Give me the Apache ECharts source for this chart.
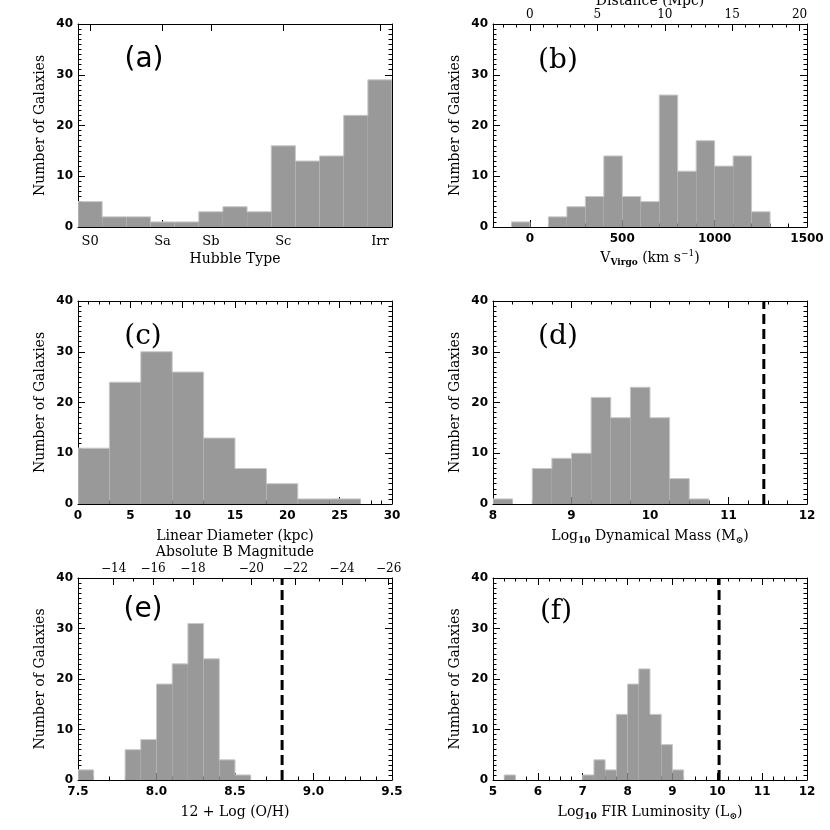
<!DOCTYPE html>
<html>
<head>
<meta charset="utf-8">
<script src="https://cdn.jsdelivr.net/npm/echarts@6/dist/echarts.min.js"></script>
<style>
  html, body { margin: 0; padding: 0; background: #fff; }
  #chart { width: 830px; height: 830px; }
</style>
</head>
<body>
<div id="chart"></div>
<script>
// (a) Hubble type, one bin per type step
const hubbleBinLeft = [-0.5, 0.5, 1.5, 2.5, 3.5, 4.5, 5.5, 6.5, 7.5, 8.5, 9.5, 10.5, 11.5]
const hubbleCounts = [5, 2, 2, 1, 1, 3, 4, 3, 16, 13, 14, 22, 29]
const hubbleTicks = [0, 3, 5, 8, 12]
const hubbleLabels = ['S0', 'Sa', 'Sb', 'Sc', 'Irr']

// (b) V_Virgo, 100 km/s bins
const velBinLeft = [-100, 0, 100, 200, 300, 400, 500, 600, 700, 800, 900, 1000, 1100, 1200]
const velCounts = [1, 0, 2, 4, 6, 14, 6, 5, 26, 11, 17, 12, 14, 3]
const velTicks = [0, 500, 1000, 1500]
const distTicks = [0, 5, 10, 15, 20]
const H0 = 73

// (c) linear diameter, 3 kpc bins
const diamBinLeft = [0, 3, 6, 9, 12, 15, 18, 21, 24]
const diamCounts = [11, 24, 30, 26, 13, 7, 4, 1, 1]

// (d) log dynamical mass, 0.25 dex bins
const massBinLeft = [8.0, 8.25, 8.5, 8.75, 9.0, 9.25, 9.5, 9.75, 10.0, 10.25, 10.5]
const massCounts = [1, 0, 7, 9, 10, 21, 17, 23, 17, 5, 1]
const massRef = 11.45

// (e) 12 + log(O/H), 0.1 dex bins
const ohBinLeft = [7.5, 7.6, 7.7, 7.8, 7.9, 8.0, 8.1, 8.2, 8.3, 8.4, 8.5]
const ohCounts = [2, 0, 0, 6, 8, 19, 23, 31, 24, 4, 1]
const ohRef = 8.8
const magTickAt = [7.727, 7.978, 8.232, 8.604, 8.885, 9.182, 9.479]
const magLabels = ['\u221214', '\u221216', '\u221218', '\u221220', '\u221222', '\u221224', '\u221226']

// (f) log FIR luminosity, 0.25 dex bins
const firBinLeft = [5.25, 7.0, 7.25, 7.5, 7.75, 8.0, 8.25, 8.5, 8.75, 9.0]
const firCounts = [1, 1, 4, 2, 13, 19, 22, 13, 7, 2]
const firRef = 10.04

const panelTags = ['(a)', '(b)', '(c)', '(d)', '(e)', '(f)']

const SANS = 'DejaVu Sans'
const SERIF = 'DejaVu Serif'
const BLACK = '#000'
const BAR_FILL = '#999999'
const BAR_EDGE = '#c8c8c8'

const grids = [
  { left: 78, top: 24, width: 314, height: 203 },
  { left: 493, top: 24, width: 314, height: 203 },
  { left: 78, top: 301, width: 314, height: 203 },
  { left: 493, top: 301, width: 314, height: 203 },
  { left: 78, top: 578, width: 314, height: 202 },
  { left: 493, top: 578, width: 314, height: 202 },
].map((g) => ({ ...g, containLabel: false, outerBoundsMode: 'none' }))

const tagPos = [
  [144, 60, SANS], [558, 61, SERIF], [143, 337, SERIF],
  [558, 337, SERIF], [143, 610, SANS], [556, 612, SERIF],
]

const xAxes = []
const yAxes = []
const series = []

const numLabel = { color: BLACK, fontFamily: SANS, fontWeight: 'bold', fontSize: 12 }
const nameStyle = {
  color: BLACK,
  fontFamily: SERIF,
  fontSize: 14,
  lineHeight: 18,
  rich: {
    sub: { fontFamily: SERIF, fontSize: 9, lineHeight: 9, verticalAlign: 'bottom', fontWeight: 'bold' },
    sup: { fontFamily: SERIF, fontSize: 9, lineHeight: 9, verticalAlign: 'top' },
  },
}

const baseAxis = (grid, min, max, position) => ({
  gridIndex: grid,
  type: 'value',
  position,
  min,
  max,
  axisLine: { show: true, onZero: false, lineStyle: { color: BLACK, width: 1 } },
  axisTick: { show: true, inside: true, length: 7, lineStyle: { color: BLACK, width: 1 } },
  minorTick: { show: false, length: 3.5, lineStyle: { color: BLACK, width: 1 } },
  splitLine: { show: false },
  axisLabel: { show: false },
  nameMoveOverlap: false,
})

const addX = (cfg) => xAxes.push(cfg) - 1
const addY = (cfg) => yAxes.push(cfg) - 1

// y axes: labelled left + mirrored right
const addYPair = (grid) => {
  const common = {
    interval: 10,
    minorTick: { show: true, splitNumber: 10, length: 3.5, lineStyle: { color: BLACK, width: 1 } },
  }
  const left = addY({
    ...baseAxis(grid, 0, 40, 'left'),
    ...common,
    axisLabel: { show: true, margin: 5, showMinLabel: true, showMaxLabel: true, ...numLabel },
    name: 'Number of Galaxies',
    nameLocation: 'middle',
    nameGap: 29,
    nameTextStyle: nameStyle,
  })
  addY({ ...baseAxis(grid, 0, 40, 'right'), ...common })
  return left
}

// evenly ticked x axis (bottom labelled + mirrored top)
const addXPair = (grid, min, max, interval, minor, name, fmt, withTop = true) => {
  const common = {
    interval,
    minorTick: { show: true, splitNumber: minor, length: 3.5, lineStyle: { color: BLACK, width: 1 } },
  }
  const bottom = addX({
    ...baseAxis(grid, min, max, 'bottom'),
    ...common,
    axisLabel: { show: true, margin: 6, showMinLabel: true, showMaxLabel: true, formatter: fmt, ...numLabel },
    name,
    nameLocation: 'middle',
    nameGap: 23,
    nameTextStyle: nameStyle,
  })
  if (withTop) addX({ ...baseAxis(grid, min, max, 'top'), ...common })
  return bottom
}

const tickAxis = (grid, min, max, position, values, len) => {
  const ax = baseAxis(grid, min, max, position)
  ax.axisLine.show = false
  ax.axisTick = { show: true, inside: true, length: len, customValues: values, lineStyle: { color: BLACK, width: 1 } }
  return ax
}

const histSeries = (xIdx, yIdx, binLeft, counts, width) => {
  const data = binLeft.map((x, i) => [x, x + width, counts[i]])
  const heightAt = (i) => (i >= 0 && i < data.length ? data[i][2] : 0)
  return {
    type: 'custom',
    xAxisIndex: xIdx,
    yAxisIndex: yIdx,
    silent: true,
    clip: true,
    data,
    renderItem: (params, api) => {
      const i = params.dataIndex
      const x0 = api.value(0)
      const x1 = api.value(1)
      const c = api.value(2)
      if (!c) return null
      const prev = i > 0 && Math.abs(data[i - 1][1] - x0) < 1e-9 ? heightAt(i - 1) : 0
      const next = i < data.length - 1 && Math.abs(data[i + 1][0] - x1) < 1e-9 ? heightAt(i + 1) : 0
      const pTop0 = api.coord([x0, c])
      const pBot1 = api.coord([x1, 0])
      const children = [
        {
          type: 'rect',
          shape: { x: pTop0[0], y: pTop0[1], width: pBot1[0] - pTop0[0], height: pBot1[1] - pTop0[1] },
          style: { fill: BAR_FILL },
        },
      ]
      const pts = []
      if (c > prev) pts.push(api.coord([x0, prev]))
      pts.push(api.coord([x0, c]), api.coord([x1, c]))
      if (c > next) pts.push(api.coord([x1, next]))
      children.push({
        type: 'polyline',
        shape: { points: pts },
        style: { stroke: BAR_EDGE, lineWidth: 1, fill: null },
      })
      return { type: 'group', children }
    },
    z: 1,
  }
}

const refLine = (xIdx, yIdx, x) => ({
  type: 'line',
  xAxisIndex: xIdx,
  yAxisIndex: yIdx,
  data: [[x, 0], [x, 40]],
  showSymbol: false,
  silent: true,
  lineStyle: { color: BLACK, width: 3, type: [10, 5] },
  z: 3,
})

// ---- (a) Hubble type
{
  const x = addX({
    ...baseAxis(0, -0.5, 12.5, 'bottom'),
    axisTick: { show: true, inside: true, length: 7, customValues: hubbleTicks, lineStyle: { color: BLACK, width: 1 } },
    axisLabel: {
      show: true,
      margin: 8,
      customValues: hubbleTicks,
      formatter: (v) => hubbleLabels[hubbleTicks.indexOf(Math.round(v))] ?? '',
      color: BLACK,
      fontFamily: SERIF,
      fontSize: 13,
    },
    name: 'Hubble Type',
    nameLocation: 'middle',
    nameGap: 23,
    nameTextStyle: nameStyle,
  })
  const top = baseAxis(0, -0.5, 12.5, 'top')
  top.axisTick = { show: true, inside: true, length: 7, customValues: hubbleTicks, lineStyle: { color: BLACK, width: 1 } }
  addX(top)
  const y = addYPair(0)
  series.push(histSeries(x, y, hubbleBinLeft, hubbleCounts, 1))
}

// ---- (b) velocity / distance
{
  const velMinor = []
  for (let v = -200; v <= 1500; v += 100) if (!velTicks.includes(v)) velMinor.push(v)
  const x = addX({
    ...baseAxis(1, -200, 1500, 'bottom'),
    axisTick: { show: true, inside: true, length: 7, customValues: velTicks, lineStyle: { color: BLACK, width: 1 } },
    axisLabel: { show: true, margin: 6, customValues: velTicks, formatter: (v) => String(v), ...numLabel },
    name: 'V{sub|Virgo} (km s{sup|\u22121})',
    nameLocation: 'middle',
    nameGap: 22,
    nameTextStyle: nameStyle,
  })
  addX(tickAxis(1, -200, 1500, 'bottom', velMinor, 3.5))
  const dMin = -200 / H0
  const dMax = 1500 / H0
  const distMinor = []
  for (let d = -2; d <= 20; d += 1) if (!distTicks.includes(d)) distMinor.push(d)
  addX({
    ...baseAxis(1, dMin, dMax, 'top'),
    axisTick: { show: true, inside: true, length: 7, customValues: distTicks, lineStyle: { color: BLACK, width: 1 } },
    axisLabel: { show: true, margin: 3, customValues: distTicks, formatter: (v) => String(v), color: BLACK, fontFamily: SERIF, fontSize: 12 },
    name: 'Distance (Mpc)',
    nameLocation: 'middle',
    nameGap: 14,
    nameTextStyle: nameStyle,
  })
  addX(tickAxis(1, dMin, dMax, 'top', distMinor, 3.5))
  const y = addYPair(1)
  series.push(histSeries(x, y, velBinLeft, velCounts, 100))
}

// ---- (c) linear diameter
{
  const x = addXPair(2, 0, 30, 5, 5, 'Linear Diameter (kpc)')
  const y = addYPair(2)
  series.push(histSeries(x, y, diamBinLeft, diamCounts, 3))
}

// ---- (d) dynamical mass
{
  const x = addXPair(3, 8, 12, 1, 4, 'Log{sub|10} Dynamical Mass (M{sub|\u2299})')
  const y = addYPair(3)
  series.push(histSeries(x, y, massBinLeft, massCounts, 0.25))
  series.push(refLine(x, y, massRef))
}

// ---- (e) metallicity / absolute magnitude
{
  const x = addXPair(4, 7.5, 9.5, 0.5, 5, '12 + Log (O/H)', (v) => v.toFixed(1), false)
  addX({
    ...baseAxis(4, 7.5, 9.5, 'top'),
    axisTick: { show: true, inside: true, length: 7, customValues: magTickAt, lineStyle: { color: BLACK, width: 1 } },
    axisLabel: {
      show: true,
      margin: 3,
      customValues: magTickAt,
      formatter: (v) => {
        const i = magTickAt.findIndex((m) => Math.abs(m - v) < 1e-6)
        return i >= 0 ? magLabels[i] : ''
      },
      color: BLACK,
      fontFamily: SERIF,
      fontSize: 12,
    },
    name: 'Absolute B Magnitude',
    nameLocation: 'middle',
    nameGap: 17,
    nameTextStyle: nameStyle,
  })
  // odd-magnitude minor ticks sit halfway between the labelled ones
  const magMinor = magTickAt.slice(1).map((m, i) => (m + magTickAt[i]) / 2)
  addX(tickAxis(4, 7.5, 9.5, 'top', magMinor, 3.5))
  const y = addYPair(4)
  series.push(histSeries(x, y, ohBinLeft, ohCounts, 0.1))
  series.push(refLine(x, y, ohRef))
}

// ---- (f) FIR luminosity
{
  const x = addXPair(5, 5, 12, 1, 4, 'Log{sub|10} FIR Luminosity (L{sub|\u2299})')
  const y = addYPair(5)
  series.push(histSeries(x, y, firBinLeft, firCounts, 0.25))
  series.push(refLine(x, y, firRef))
}

const chart = echarts.init(document.getElementById('chart'), null, { renderer: 'canvas' })
chart.setOption({
  animation: false,
  backgroundColor: '#fff',
  grid: grids,
  xAxis: xAxes,
  yAxis: yAxes,
  series,
  graphic: panelTags.map((t, i) => ({
    type: 'text',
    x: tagPos[i][0],
    y: tagPos[i][1],
    silent: true,
    z: 10,
    style: {
      text: t,
      fill: BLACK,
      fontFamily: tagPos[i][2],
      fontSize: 28,
      align: 'center',
      verticalAlign: 'middle',
    },
  })),
})
</script>
</body>
</html>
